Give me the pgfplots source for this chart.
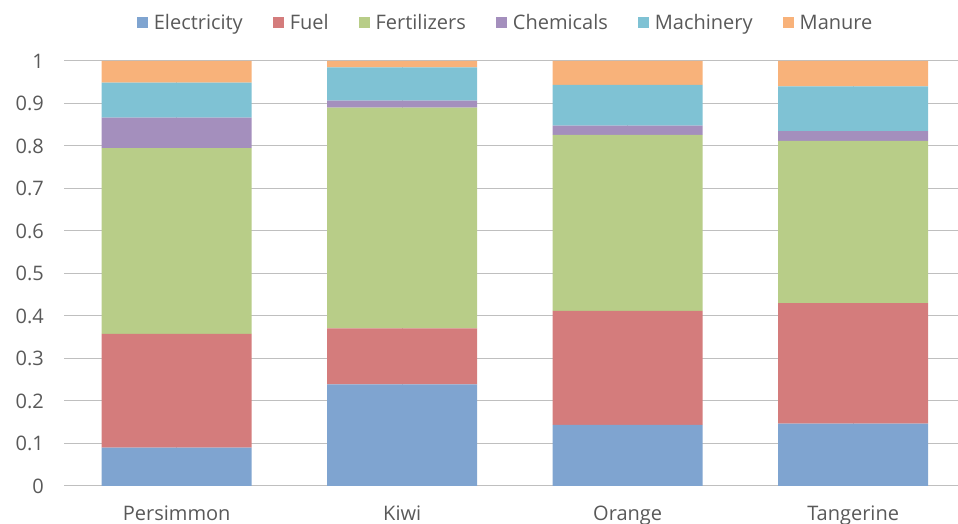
\documentclass[border=0pt]{standalone}
\usepackage{fontspec}
\setmainfont{Open Sans}
\usepackage{pgfplots}
\pgfplotsset{compat=1.18}
\definecolor{cElec}{RGB}{127,164,208}
\definecolor{cFuel}{RGB}{212,124,124}
\definecolor{cFert}{RGB}{184,205,136}
\definecolor{cChem}{RGB}{164,143,189}
\definecolor{cMach}{RGB}{127,194,212}
\definecolor{cMan}{RGB}{248,178,122}
\definecolor{txt}{RGB}{89,89,89}
\definecolor{grid}{RGB}{217,217,217}
\definecolor{axl}{RGB}{191,191,191}
\begin{document}
\begin{tikzpicture}
\path[use as bounding box, clip] (0,0) rectangle (958pt,524pt);
\begin{axis}[
  at={(64pt,38pt)}, anchor=south west,
  scale only axis, width=894pt, height=425pt,
  ybar stacked, bar width=150pt,
  xmin=-0.5, xmax=3.465, ymin=0, ymax=1,
  axis line style={draw=none},
  axis x line*=bottom,
  xtick={0,1,2,3},
  xticklabels={Persimmon,Kiwi,Orange,Tangerine},
  ytick={0,0.1,0.2,0.3,0.4,0.5,0.6,0.7,0.8,0.9,1},
  yticklabels={0,0.1,0.2,0.3,0.4,0.5,0.6,0.7,0.8,0.9,1},
  major tick length=0pt,
  tick style={draw=none},
  ymajorgrids, grid style={grid, line width=1pt},
  tick label style={font=\fontsize{20}{24}\selectfont, text=txt},
  yticklabel style={anchor=east, inner sep=0pt, xshift=-20pt},
  xticklabel style={anchor=north, inner sep=0pt, yshift=-20pt},
  /pgf/number format/assume math mode=true,
  legend columns=6,
  legend style={at={(0.494,1.09)}, anchor=center, draw=none, fill=none,
    font=\fontsize{20}{24}\selectfont, text=txt,
    /tikz/every odd column/.append style={column sep=4pt},
    /tikz/every even column/.append style={column sep=28pt}},
  legend image code/.code={\fill[#1] (0pt,-5.5pt) rectangle (11pt,5.5pt);},
  every axis plot/.append style={draw=none},
]
\addplot[fill=cElec] coordinates {(0,0.090) (1,0.239) (2,0.144) (3,0.147)};
\addplot[fill=cFuel] coordinates {(0,0.268) (1,0.132) (2,0.268) (3,0.283)};
\addplot[fill=cFert] coordinates {(0,0.437) (1,0.519) (2,0.414) (3,0.382)};
\addplot[fill=cChem] coordinates {(0,0.072) (1,0.017) (2,0.022) (3,0.023)};
\addplot[fill=cMach] coordinates {(0,0.082) (1,0.078) (2,0.096) (3,0.105)};
\addplot[fill=cMan] coordinates {(0,0.051) (1,0.015) (2,0.056) (3,0.060)};
\legend{Electricity,Fuel,Fertilizers,Chemicals,Machinery,Manure}
\draw[axl, line width=1.2pt] (axis cs:-0.5,0) -- (axis cs:3.465,0);
\end{axis}
\end{tikzpicture}
\end{document}
